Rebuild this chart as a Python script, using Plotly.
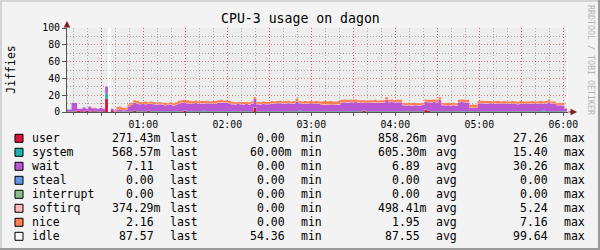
import plotly.graph_objects as go
import pandas as pd

# ---------------- data ----------------
START = "2024-01-01 00:04:45"
STEP = "2min"
X_RANGE = ["2024-01-01 00:05:30", "2024-01-01 06:03:21"]

user = [0.5, 0.5, 0.6, 0.5, 1.2, 0.8, 0.6, 1.5, 0.6, 0.8,
        1.0, 0.5, 0.6, 0.8, 15.8, 0.0, 2.0, 0.4, 0.3, 0.5,
        0.4, 0.4, 0.5, 0.6, 1.8, 0.6, 0.6, 0.6, 0.7, 1.5,
        0.6, 0.6, 0.5, 0.6, 0.7, 0.6, 0.6, 0.6, 0.6, 0.7,
        0.6, 0.6, 1.6, 0.6, 0.6, 0.6, 0.6, 0.5, 0.6, 0.6,
        0.6, 0.6, 0.5, 0.6, 0.6, 0.6, 0.6, 0.6, 0.6, 0.6,
        0.6, 0.6, 0.6, 0.6, 0.6, 0.6, 0.6, 5.0, 0.6, 0.6,
        0.6, 0.6, 0.6, 0.6, 0.6, 0.6, 0.6, 0.6, 0.6, 0.6,
        0.6, 0.6, 0.6, 0.6, 0.6, 0.6, 0.6, 0.6, 0.6, 0.6,
        0.6, 0.6, 0.6, 0.6, 0.6, 0.6, 0.6, 0.6, 0.6, 0.6,
        0.6, 0.6, 0.6, 0.6, 0.6, 0.6, 1.6, 0.6, 0.6, 0.6,
        0.6, 0.6, 0.6, 0.6, 0.6, 0.6, 0.6, 0.6, 0.6, 0.6,
        0.6, 0.6, 0.6, 0.6, 0.6, 0.6, 0.6, 0.6, 2.5, 1.8,
        0.6, 0.6, 0.6, 0.6, 0.6, 0.6, 0.6, 0.6, 0.6, 0.6,
        0.6, 0.6, 0.6, 0.6, 0.6, 0.6, 0.6, 0.6, 0.6, 0.6,
        0.6, 0.6, 0.6, 0.6, 0.6, 0.6, 0.6, 0.6, 0.6, 0.6,
        0.6, 0.6, 0.6, 0.6, 0.6, 0.6, 0.6, 0.6, 0.6, 0.6,
        0.6, 0.6, 0.6, 0.6, 0.6, 0.6, 0.6, 0.6, 0.4, 0.0]

system = [0.4, 0.4, 0.5, 0.4, 0.4, 0.4, 0.4, 0.3, 0.4, 0.4,
          0.4, 0.4, 0.4, 0.3, 6.2, 0.0, 0.5, 0.3, 0.4, 0.4,
          0.4, 0.5, 0.5, 0.6, 0.6, 0.6, 0.6, 0.5, 0.6, 0.6,
          0.6, 0.6, 0.6, 0.5, 0.6, 0.6, 0.5, 0.6, 0.5, 0.6,
          0.6, 0.5, 0.6, 0.6, 0.5, 0.6, 0.6, 0.6, 0.6, 1.5,
          0.6, 0.6, 0.6, 0.5, 0.6, 0.6, 0.6, 0.6, 0.5, 0.6,
          0.6, 0.6, 0.6, 0.6, 0.6, 0.6, 0.6, 0.6, 0.6, 0.6,
          0.6, 0.6, 0.6, 0.6, 0.6, 0.6, 0.6, 0.6, 0.6, 0.6,
          0.6, 0.6, 0.6, 1.6, 0.6, 0.6, 0.6, 0.6, 0.6, 0.6,
          0.6, 0.6, 0.6, 0.6, 0.6, 0.6, 0.6, 0.6, 0.6, 0.6,
          0.6, 0.6, 0.6, 0.6, 0.6, 0.6, 0.6, 0.6, 0.6, 0.6,
          0.6, 0.6, 0.6, 0.6, 0.6, 0.6, 0.6, 0.6, 0.6, 0.6,
          0.6, 0.6, 0.6, 0.6, 0.6, 0.6, 0.6, 0.6, 0.6, 0.6,
          0.6, 0.6, 0.6, 0.6, 0.6, 0.6, 0.6, 0.6, 0.6, 0.6,
          0.6, 0.6, 0.6, 0.6, 0.6, 0.6, 0.6, 0.6, 0.6, 0.6,
          0.6, 0.6, 0.6, 0.6, 0.6, 0.6, 0.6, 0.6, 0.6, 0.6,
          0.6, 0.6, 0.6, 0.6, 0.6, 0.6, 0.6, 0.6, 0.6, 0.6,
          1.4, 0.6, 0.6, 0.6, 0.6, 0.6, 0.6, 0.6, 0.4, 0.0]

wait = [2.0, 2.2, 9.5, 9.8, 2.3, 2.6, 4.8, 2.0, 5.2, 3.4,
        3.0, 2.9, 3.8, 2.7, 8.0, 0.0, 1.5, 1.0, 2.0, 1.5,
        1.2, 2.0, 5.5, 7.0, 8.5, 8.6, 8.0, 8.6, 7.9, 7.4,
        8.4, 7.9, 7.6, 8.2, 7.0, 6.8, 7.2, 7.5, 6.6, 7.5,
        8.8, 9.6, 8.4, 9.0, 8.5, 8.8, 9.4, 8.4, 8.9, 8.0,
        9.3, 8.3, 9.0, 8.4, 9.8, 10.2, 9.5, 9.9, 9.2, 8.1,
        7.6, 8.3, 8.0, 7.8, 8.2, 7.5, 8.4, 9.8, 8.1, 7.7,
        8.5, 7.9, 8.1, 8.9, 8.4, 9.1, 9.3, 8.6, 8.9, 9.2,
        8.7, 8.9, 11.1, 8.3, 8.7, 8.9, 8.4, 9.1, 8.5, 8.8,
        8.6, 7.2, 7.5, 7.3, 7.6, 7.0, 7.4, 7.8, 10.1, 10.5,
        9.9, 10.4, 10.0, 10.6, 9.8, 9.7, 9.0, 9.4, 10.0, 9.6,
        10.1, 9.5, 9.9, 9.6, 13.4, 10.4, 10.6, 10.1, 10.5, 10.3,
        6.8, 6.5, 6.9, 6.3, 6.7, 6.4, 6.6, 7.0, 8.9, 9.1,
        10.2, 10.6, 10.1, 13.2, 6.8, 6.4, 6.7, 6.2, 6.9, 6.5,
        10.3, 10.6, 10.0, 10.2, 3.6, 3.9, 3.5, 8.9, 9.2, 8.7,
        8.9, 9.1, 8.5, 9.0, 8.8, 8.5, 8.8, 8.3, 8.6, 8.8,
        8.4, 8.1, 8.7, 8.4, 8.5, 8.6, 8.9, 8.2, 8.7, 8.8,
        7.8, 8.9, 10.4, 8.6, 8.5, 6.7, 6.9, 6.5, 2.8, 0.0]

softirq = [0.2, 0.2, 0.3, 0.3, 0.2, 0.2, 0.2, 0.2, 0.2, 0.2,
           0.2, 0.2, 0.2, 0.2, 0.1, 0.0, 0.2, 0.2, 0.3, 0.3,
           0.3, 0.3, 0.4, 0.4, 0.5, 0.5, 0.4, 0.5, 0.4, 0.5,
           0.4, 0.5, 0.5, 0.4, 0.5, 0.4, 0.5, 0.4, 0.5, 0.5,
           0.5, 0.5, 0.5, 0.5, 0.5, 0.5, 0.5, 0.5, 0.5, 0.5,
           0.5, 0.5, 0.5, 0.5, 0.5, 0.5, 0.5, 0.5, 0.5, 0.5,
           0.5, 0.4, 0.5, 0.5, 0.5, 0.5, 0.5, 0.5, 0.5, 0.5,
           0.5, 0.5, 0.5, 0.5, 0.5, 0.5, 0.5, 0.5, 0.5, 0.5,
           0.5, 0.5, 0.5, 0.5, 0.5, 0.5, 0.5, 0.5, 0.5, 0.5,
           0.5, 0.5, 0.5, 0.5, 0.5, 0.5, 0.5, 0.5, 0.5, 0.5,
           0.5, 0.5, 0.5, 0.5, 0.5, 0.5, 0.5, 0.5, 0.5, 0.5,
           0.5, 0.5, 0.5, 0.5, 0.5, 0.5, 0.5, 0.5, 0.5, 0.5,
           0.5, 0.5, 0.5, 0.5, 0.5, 0.5, 0.5, 0.5, 0.5, 0.5,
           0.5, 0.5, 0.5, 0.5, 0.5, 0.5, 0.5, 0.5, 0.5, 0.5,
           0.5, 0.5, 0.5, 0.5, 0.5, 0.5, 0.5, 0.5, 0.5, 0.5,
           0.5, 0.5, 0.5, 0.5, 0.5, 0.5, 0.5, 0.5, 0.5, 0.5,
           0.5, 0.5, 0.5, 0.5, 0.5, 0.5, 0.5, 0.5, 0.5, 0.5,
           0.5, 0.5, 0.5, 0.5, 0.5, 0.5, 0.5, 0.5, 0.2, 0.0]

nice = [0.0, 0.0, 0.3, 0.0, 0.0, 0.0, 0.0, 0.0, 0.3, 0.2,
        0.4, 0.0, 0.0, 0.0, 0.0, 0.0, 0.0, 0.3, 3.0, 3.5,
        2.8, 2.0, 2.2, 2.4, 2.6, 2.7, 2.4, 1.8, 2.9, 1.5,
        2.5, 2.4, 1.8, 2.3, 2.2, 2.6, 1.7, 2.4, 2.3, 2.2,
        3.0, 2.8, 3.4, 3.3, 2.9, 2.5, 2.5, 2.5, 2.4, 2.4,
        2.5, 2.5, 2.4, 3.0, 2.5, 2.6, 2.3, 2.4, 2.7, 2.2,
        2.2, 2.1, 2.3, 2.5, 2.1, 2.3, 2.4, 2.1, 2.2, 2.1,
        2.3, 2.4, 2.2, 2.4, 2.4, 2.2, 2.5, 2.2, 2.4, 2.6,
        2.1, 2.4, 3.2, 2.0, 2.1, 2.4, 2.4, 2.2, 2.3, 2.5,
        2.2, 3.6, 3.8, 3.5, 3.7, 3.8, 3.4, 3.5, 2.7, 2.8,
        2.9, 2.4, 2.8, 2.7, 2.5, 2.6, 2.3, 2.4, 2.3, 2.7,
        2.7, 2.3, 2.4, 2.7, 2.4, 2.4, 2.7, 2.2, 2.3, 2.5,
        2.5, 2.3, 2.4, 2.5, 2.6, 2.4, 2.2, 2.3, 2.5, 2.5,
        2.6, 2.7, 2.7, 2.6, 2.5, 2.4, 2.6, 2.6, 2.4, 2.3,
        2.5, 2.7, 2.8, 2.6, 3.2, 3.4, 3.3, 2.4, 2.6, 2.6,
        2.4, 2.2, 2.3, 2.3, 2.5, 2.3, 2.5, 2.5, 2.2, 2.5,
        2.4, 2.2, 2.6, 2.4, 2.3, 2.2, 2.4, 2.6, 2.1, 2.5,
        2.2, 2.4, 2.9, 2.2, 2.3, 2.1, 2.4, 2.3, 1.2, 0.0]

idle = [96.9, 96.7, 88.8, 89.0, 95.9, 96.0, 94.0, 96.0, 93.3, 95.0,
        95.0, 96.0, 95.0, 96.0, 69.9, 0.0, 95.8, 97.8, 94.0, 93.8,
        94.9, 94.8, 90.9, 89.0, 86.0, 87.0, 88.0, 88.0, 87.5, 88.5,
        87.5, 88.0, 89.0, 88.0, 89.0, 89.0, 89.5, 88.5, 89.5, 88.5,
        86.5, 86.0, 85.5, 86.0, 87.0, 87.0, 86.5, 87.5, 87.0, 87.0,
        86.5, 87.5, 87.0, 87.0, 86.0, 85.5, 86.5, 86.0, 86.5, 88.0,
        88.5, 88.0, 88.0, 88.0, 88.0, 88.5, 87.5, 82.0, 88.0, 88.5,
        87.5, 88.0, 88.0, 87.0, 87.5, 87.0, 86.5, 87.5, 87.0, 86.5,
        87.5, 87.0, 84.0, 87.0, 87.5, 87.0, 87.5, 87.0, 87.5, 87.0,
        87.5, 87.5, 87.0, 87.5, 87.0, 87.5, 87.5, 87.0, 85.5, 85.0,
        85.5, 85.5, 85.5, 85.0, 86.0, 86.0, 86.0, 86.5, 86.0, 86.0,
        85.5, 86.5, 86.0, 86.0, 82.5, 85.5, 85.0, 86.0, 85.5, 85.5,
        89.0, 89.5, 89.0, 89.5, 89.0, 89.5, 89.5, 89.0, 85.0, 85.5,
        85.5, 85.0, 85.5, 82.5, 89.0, 89.5, 89.0, 89.5, 89.0, 89.5,
        85.5, 85.0, 85.5, 85.5, 91.5, 91.0, 91.5, 87.0, 86.5, 87.0,
        87.0, 87.0, 87.5, 87.0, 87.0, 87.5, 87.0, 87.5, 87.5, 87.0,
        87.5, 88.0, 87.0, 87.5, 87.5, 87.5, 87.0, 87.5, 87.5, 87.0,
        87.5, 87.0, 85.0, 87.5, 87.5, 89.5, 89.0, 89.5, 95.0, 0.0]

TICK_TIMES = ["2024-01-01 00:30", "2024-01-01 01:00", "2024-01-01 01:30",
              "2024-01-01 02:00", "2024-01-01 02:30", "2024-01-01 03:00",
              "2024-01-01 03:30", "2024-01-01 04:00", "2024-01-01 04:30",
              "2024-01-01 05:00", "2024-01-01 05:30", "2024-01-01 06:00"]
TICK_TEXT = ["", "01:00", "", "02:00", "", "03:00", "", "04:00", "", "05:00", "", "06:00"]

legend_names = ["user", "system", "wait", "steal", "interrupt", "softirq", "nice", "idle"]
legend_colors = ["#DC143C", "#20B2AA", "#BA55D3", "#6495ED", "#8FBC8F", "#FFB6C1", "#FF7F50", "#F7F7F7"]
last_vals = ["271.43m", "568.57m", "7.11", "0.00", "0.00", "374.29m", "2.16", "87.57"]
min_vals = ["0.00", "60.00m", "0.00", "0.00", "0.00", "0.00", "0.00", "54.36"]
avg_vals = ["858.26m", "605.30m", "6.89", "0.00", "0.00", "498.41m", "1.95", "87.55"]
max_vals = ["27.26", "15.40", "30.26", "0.00", "0.00", "5.24", "7.16", "99.64"]

TITLE = "CPU-3 usage on dagon"
Y_TITLE = "Jiffies"
WATERMARK = "RRDTOOL / TOBI OETIKER"

# ---------------- figure ----------------
W, H = 600, 250
ML, MR, MT, MB = 67, 32, 28, 138
PW, PH = W - ML - MR, H - MT - MB
MONO = "DejaVu Sans Mono"


def px(x):
    return (x - ML) / PW


def py(y):
    return (H - MB - y) / PH


times = pd.date_range(START, periods=len(user), freq=STEP)

stack = [("user", user, "#DC143C"), ("system", system, "#20B2AA"),
         ("wait", wait, "#BA55D3"), ("softirq", softirq, "#FFB6C1"),
         ("nice", nice, "#FF7F50"), ("idle", idle, "rgba(0,0,0,0.07)")]

fig = go.Figure()
for name, vals, col in stack:
    fig.add_trace(go.Scatter(x=times, y=vals, name=name, mode="lines",
                             stackgroup="cpu", line=dict(width=0, shape="hv"),
                             fillcolor=col, hoverinfo="skip"))

MGRID = "rgba(220,70,70,0.6)"
GRID = "rgba(110,110,110,0.5)"
DOT = "1px,2px"

fig.update_layout(
    width=W, height=H,
    margin=dict(l=ML, r=MR, t=MT, b=MB, pad=0),
    paper_bgcolor="#F3F3F3", plot_bgcolor="#FFFFFF",
    showlegend=False,
    font=dict(family=MONO, color="#000000"),
    xaxis=dict(type="date", range=X_RANGE, tickmode="array",
               tickvals=TICK_TIMES, ticktext=TICK_TEXT,
               showgrid=True, gridcolor=MGRID, griddash=DOT, gridwidth=1,
               ticks="outside", ticklen=3, tickcolor="#555555",
               showline=True, linecolor="#555555", linewidth=1, zeroline=False,
               tickfont=dict(family=MONO, size=9.8, color="#000000"),
               minor=dict(dtick=600000, tick0="2024-01-01 00:00", showgrid=True,
                          gridcolor=GRID, griddash=DOT, gridwidth=1,
                          ticks="outside", ticklen=2, tickcolor="#777777")),
    yaxis=dict(range=[0, 100], tickmode="linear", tick0=0, dtick=20,
               showgrid=True, gridcolor=MGRID, griddash=DOT, gridwidth=1,
               ticks="outside", ticklen=4, tickcolor="#555555",
               showline=True, linecolor="#555555", linewidth=1, zeroline=False,
               tickfont=dict(family=MONO, size=9.8, color="#000000"),
               minor=dict(dtick=10, tick0=0, showgrid=True, gridcolor=GRID,
                          griddash=DOT, gridwidth=1)),
)

ann = []
# title, y title, watermark
ann.append(dict(x=px(300), y=py(18.5), xref="paper", yref="paper", text=TITLE,
                showarrow=False, xanchor="center", yanchor="middle",
                font=dict(family=MONO, size=13.2, color="#000000")))
ann.append(dict(x=px(10.7), y=0.5, xref="paper", yref="paper", text=Y_TITLE,
                showarrow=False, textangle=-90, xanchor="center", yanchor="middle",
                font=dict(family=MONO, size=11.5, color="#000000")))
ann.append(dict(x=px(591), y=py(60), xref="paper", yref="paper", text=WATERMARK,
                showarrow=False, textangle=90, xanchor="center", yanchor="middle",
                font=dict(family=MONO, size=8.3, color="#B4B4B4")))
# axis arrows
ann.append(dict(x=px(577), y=0, xref="paper", yref="paper", text="",
                showarrow=True, ax=-10, ay=0, arrowhead=2, arrowsize=1.3,
                arrowwidth=1, arrowcolor="#7F1F1F"))
ann.append(dict(x=0, y=py(21), xref="paper", yref="paper", text="",
                showarrow=True, ax=0, ay=8, arrowhead=2, arrowsize=1.3,
                arrowwidth=1, arrowcolor="#7F1F1F"))

shapes = []
ADV = 6.95
LEG_FONT = dict(family=MONO, size=11.5, color="#000000")
label_left = [169, 300, 435, 563.3]
columns = [(last_vals, "last"), (min_vals, "min"), (avg_vals, "avg"), (max_vals, "max")]
for i, name in enumerate(legend_names):
    yc = 138.3 + 14 * i
    shapes.append(dict(type="rect", xref="paper", yref="paper",
                       x0=px(15), x1=px(23), y0=py(yc + 4), y1=py(yc - 4),
                       fillcolor=legend_colors[i], line=dict(color="#000000", width=1)))
    ann.append(dict(x=px(30.7), y=py(yc), xref="paper", yref="paper", text=name,
                    showarrow=False, xanchor="left", yanchor="middle",
                    borderpad=0, font=LEG_FONT))
    for (vals, lab), L in zip(columns, label_left):
        v = vals[i]
        right = L - ADV if v.endswith("m") else L - 2 * ADV
        ann.append(dict(x=px(right), y=py(yc), xref="paper", yref="paper", text=v,
                        showarrow=False, xanchor="right", yanchor="middle",
                        borderpad=0, font=LEG_FONT))
        ann.append(dict(x=px(L), y=py(yc), xref="paper", yref="paper", text=lab,
                        showarrow=False, xanchor="left", yanchor="middle",
                        borderpad=0, font=LEG_FONT))

# 3D frame of the image
shapes.append(dict(type="line", xref="paper", yref="paper", x0=px(0), x1=px(W),
                   y0=py(1), y1=py(1), line=dict(color="#D4D4D4", width=2)))
shapes.append(dict(type="line", xref="paper", yref="paper", x0=px(1), x1=px(1),
                   y0=py(0), y1=py(H), line=dict(color="#D4D4D4", width=2)))
shapes.append(dict(type="line", xref="paper", yref="paper", x0=px(0), x1=px(W),
                   y0=py(H - 1), y1=py(H - 1), line=dict(color="#9A9A9A", width=2)))
shapes.append(dict(type="line", xref="paper", yref="paper", x0=px(W - 1), x1=px(W - 1),
                   y0=py(0), y1=py(H), line=dict(color="#9A9A9A", width=2)))

fig.update_layout(annotations=ann, shapes=shapes)
fig.write_html("out.html")
